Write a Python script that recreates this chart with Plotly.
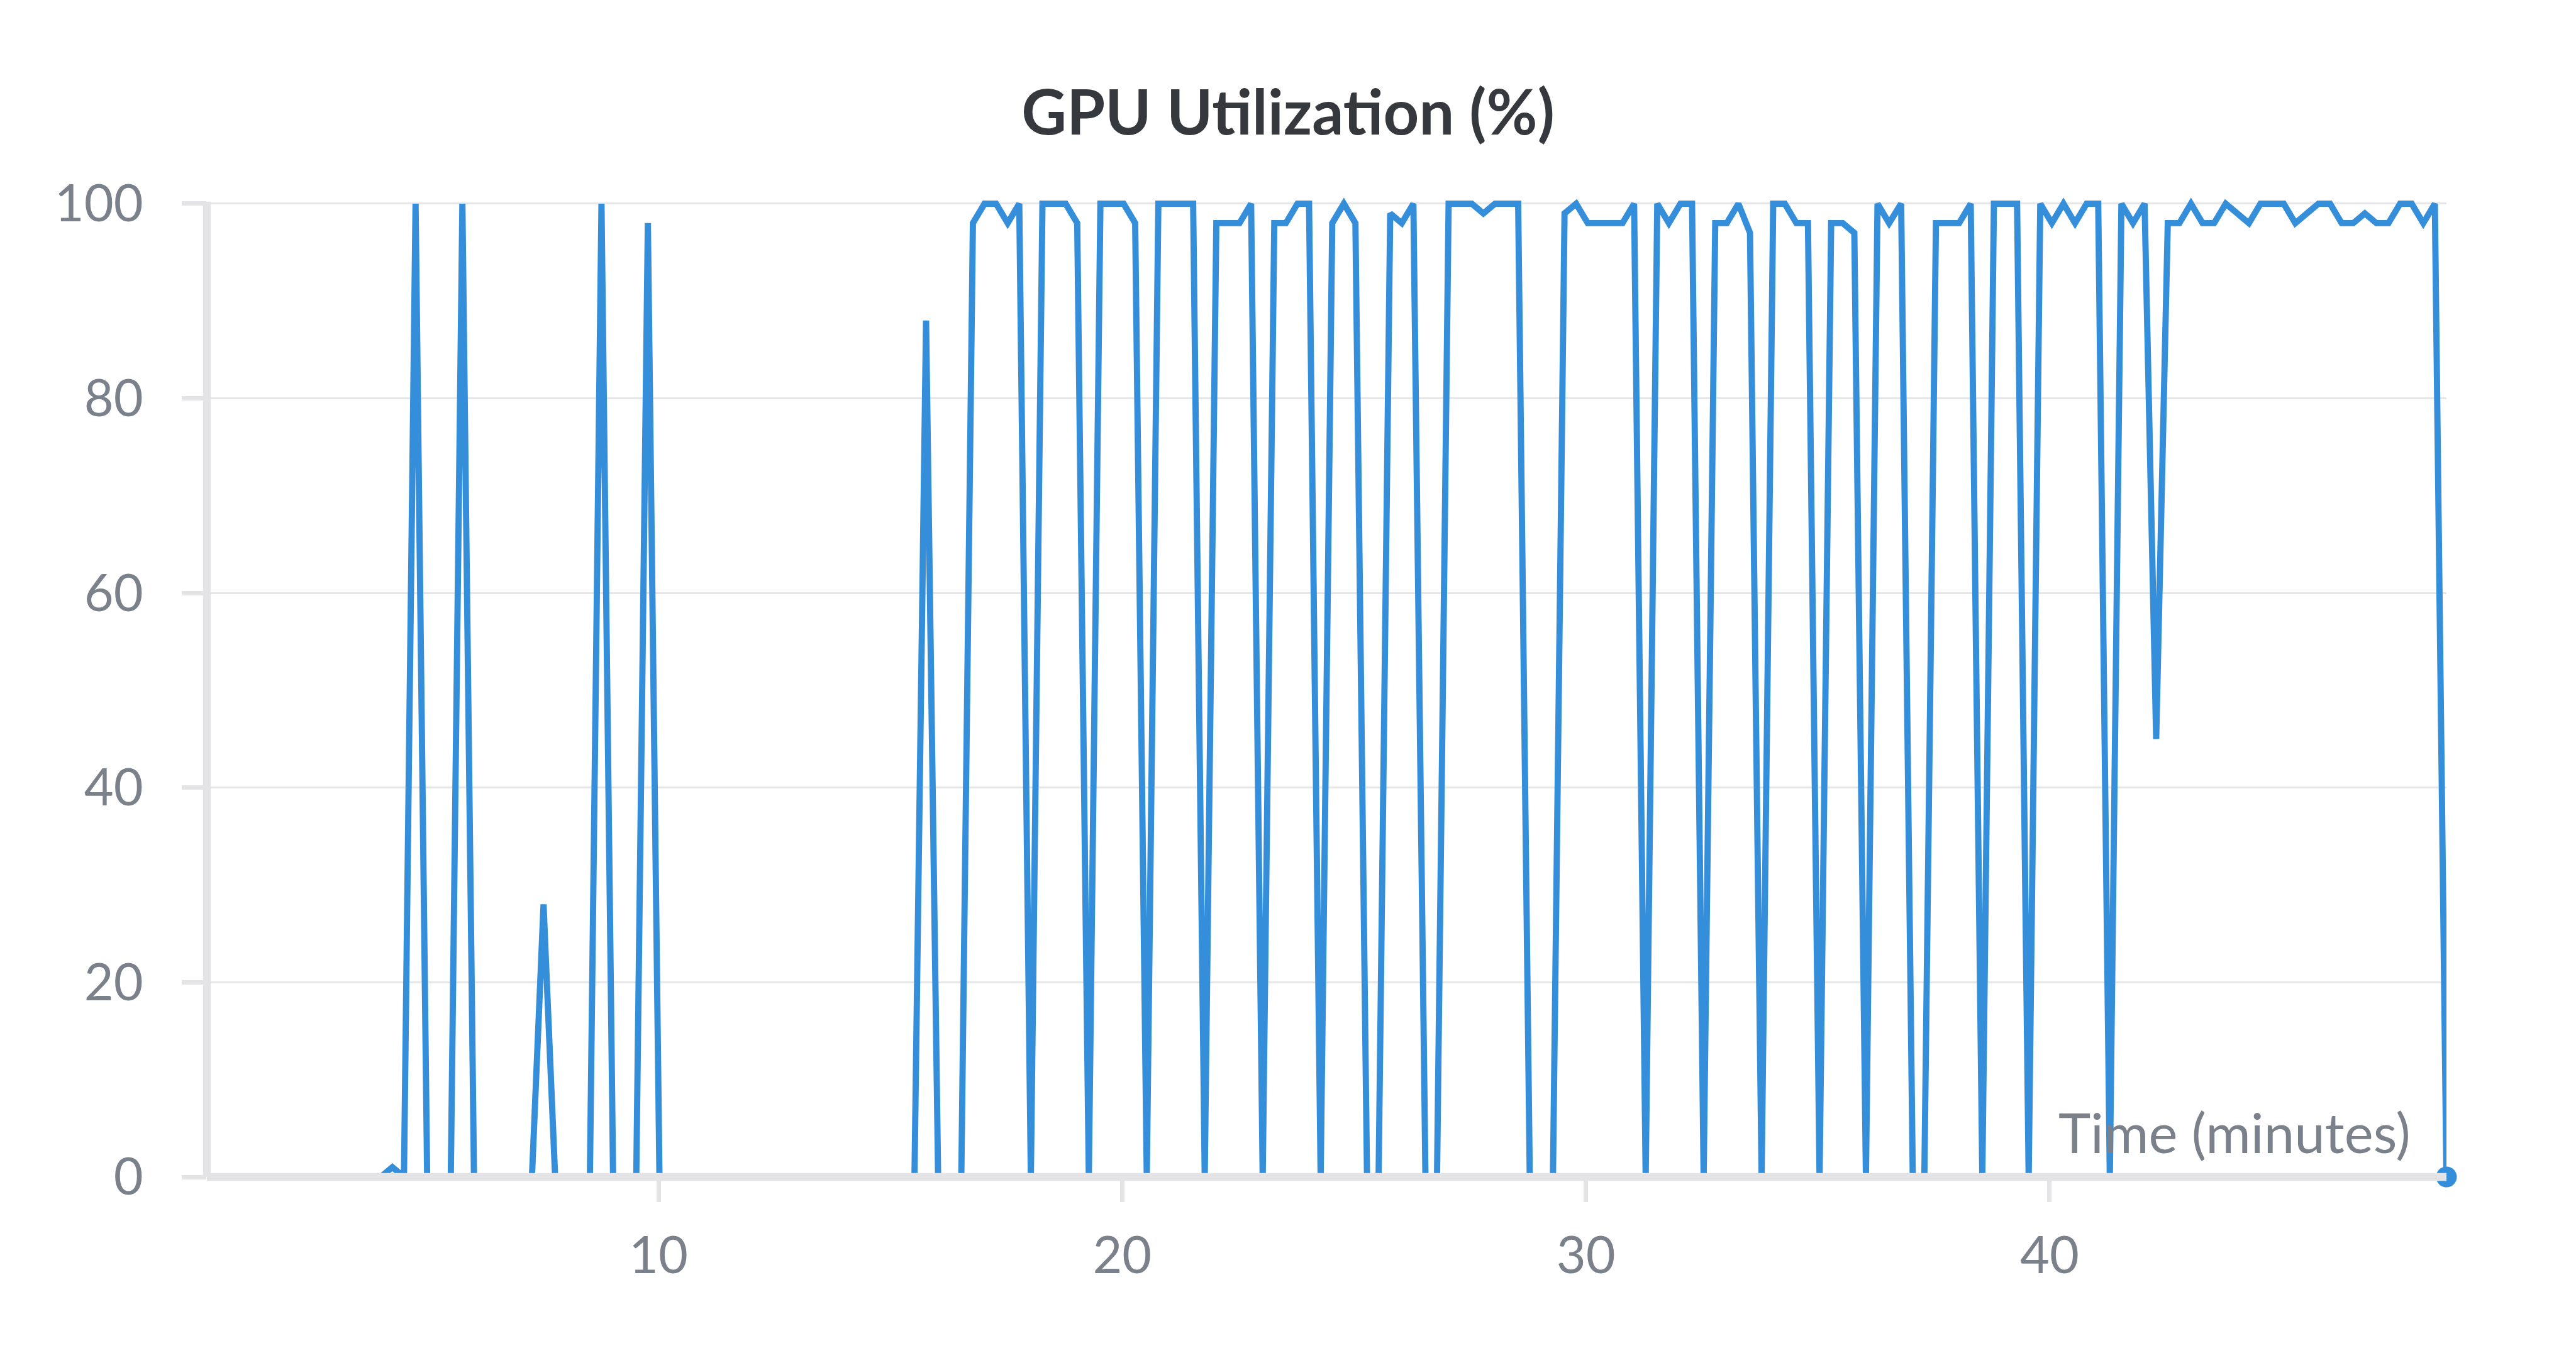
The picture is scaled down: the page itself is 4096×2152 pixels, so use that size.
import plotly.graph_objects as go

# ---------------- data ----------------
TIMES = [
    0.26, 0.51, 0.76, 1.01, 1.26, 1.51, 1.76, 2.01, 2.26, 2.51,
    2.76, 3.01, 3.26, 3.51, 3.76, 4.01, 4.26, 4.51, 4.76, 5.01,
    5.26, 5.52, 5.77, 6.02, 6.27, 6.52, 6.77, 7.02, 7.27, 7.52,
    7.77, 8.02, 8.27, 8.52, 8.77, 9.02, 9.27, 9.52, 9.77, 10.02,
    10.27, 10.52, 10.77, 11.02, 11.27, 11.52, 11.77, 12.02, 12.27, 12.52,
    12.77, 13.02, 13.27, 13.52, 13.77, 14.02, 14.27, 14.52, 14.77, 15.02,
    15.27, 15.52, 15.77, 16.03, 16.28, 16.53, 16.78, 17.03, 17.28, 17.53,
    17.78, 18.03, 18.28, 18.53, 18.78, 19.03, 19.28, 19.53, 19.78, 20.03,
    20.28, 20.53, 20.78, 21.03, 21.28, 21.53, 21.78, 22.03, 22.28, 22.53,
    22.78, 23.03, 23.28, 23.53, 23.78, 24.03, 24.28, 24.53, 24.78, 25.03,
    25.28, 25.53, 25.78, 26.03, 26.28, 26.54, 26.79, 27.04, 27.29, 27.54,
    27.79, 28.04, 28.29, 28.54, 28.79, 29.04, 29.29, 29.54, 29.79, 30.04,
    30.29, 30.54, 30.79, 31.04, 31.29, 31.54, 31.79, 32.04, 32.29, 32.54,
    32.79, 33.04, 33.29, 33.54, 33.79, 34.04, 34.29, 34.54, 34.79, 35.04,
    35.29, 35.54, 35.79, 36.04, 36.29, 36.54, 36.80, 37.05, 37.30, 37.55,
    37.80, 38.05, 38.30, 38.55, 38.80, 39.05, 39.30, 39.55, 39.80, 40.05,
    40.30, 40.55, 40.80, 41.05, 41.30, 41.55, 41.80, 42.05, 42.30, 42.55,
    42.80, 43.05, 43.30, 43.55, 43.80, 44.05, 44.30, 44.55, 44.80, 45.05,
    45.30, 45.55, 45.80, 46.05, 46.30, 46.55, 46.80, 47.05, 47.31, 47.56,
    47.81, 48.06, 48.31, 48.56,
]

GPU_UTIL = [
    0, 0, 0, 0, 0, 0, 0, 0, 0, 0,
    0, 0, 0, 0, 0, 0, 1, 0, 100, 0,
    0, 0, 100, 0, 0, 0, 0, 0, 0, 28,
    0, 0, 0, 0, 100, 0, 0, 0, 98, 0,
    0, 0, 0, 0, 0, 0, 0, 0, 0, 0,
    0, 0, 0, 0, 0, 0, 0, 0, 0, 0,
    0, 0, 88, 0, 0, 0, 98, 100, 100, 98,
    100, 0, 100, 100, 100, 98, 0, 100, 100, 100,
    98, 0, 100, 100, 100, 100, 0, 98, 98, 98,
    100, 0, 98, 98, 100, 100, 0, 98, 100, 98,
    0, 0, 99, 98, 100, 0, 0, 100, 100, 100,
    99, 100, 100, 100, 0, 0, 0, 99, 100, 98,
    98, 98, 98, 100, 0, 100, 98, 100, 100, 0,
    98, 98, 100, 97, 0, 100, 100, 98, 98, 0,
    98, 98, 97, 0, 100, 98, 100, 0, 0, 98,
    98, 98, 100, 0, 100, 100, 100, 0, 100, 98,
    100, 98, 100, 100, 0, 100, 98, 100, 45, 98,
    98, 100, 98, 98, 100, 99, 98, 100, 100, 100,
    98, 99, 100, 100, 98, 98, 99, 98, 98, 100,
    100, 98, 100, 0,
]

X_TICKS = [10, 20, 30, 40]
X_TICK_TEXT = ["10", "20", "30", "40"]
Y_TICKS = [0, 20, 40, 60, 80, 100]
Y_TICK_TEXT = ["0", "20", "40", "60", "80", "100"]

TITLE = "GPU Utilization (%)"
X_LABEL = "Time (minutes)"

# ---------------- style ----------------
W, H = 4096, 2152
L, R, T, B = 329.0, 3890.0, 293.0, 1872.5
Y_TOP = 102

LINE_BLUE = "#348eda"
AXIS_GREY = "#e4e4e7"
GRID_GREY = "#e6e6e9"
LABEL_GREY = "#7b818b"
TITLE_COLOR = "#35383c"
FONT = "Lato"

TICK_LEN = 39
TICK_W = 6.5
AXIS_W = 12.4

fig = go.Figure()

fig.add_trace(go.Scatter(
    x=TIMES, y=GPU_UTIL, mode="lines",
    line=dict(color=LINE_BLUE, width=9.9),
    hoverinfo="skip", showlegend=False,
))
fig.add_trace(go.Scatter(
    x=[TIMES[-1]], y=[GPU_UTIL[-1]], mode="markers",
    marker=dict(color=LINE_BLUE, size=33),
    cliponaxis=False, hoverinfo="skip", showlegend=False,
))

tickfont = dict(family=FONT, size=81, color=LABEL_GREY)

fig.update_layout(
    width=W, height=H,
    margin=dict(l=L, r=W - R, t=T, b=H - B, pad=0),
    paper_bgcolor="white", plot_bgcolor="white",
    title=dict(
        text=TITLE, x=0.5, xref="container", xanchor="center",
        y=1 - 179.5 / H, yref="container", yanchor="middle",
        font=dict(family=FONT, size=99, color=TITLE_COLOR, weight="bold"),
    ),
    xaxis=dict(
        range=[TIMES[0], TIMES[-1]],
        tickvals=X_TICKS, ticktext=X_TICK_TEXT,
        ticks="outside", ticklen=TICK_LEN, tickwidth=TICK_W, tickcolor=AXIS_GREY,
        showgrid=False, zeroline=False, showline=False,
        tickfont=tickfont, ticklabelstandoff=16,
    ),
    xaxis2=dict(
        overlaying="x", matches="x", anchor="y",
        tickvals=X_TICKS, ticks="inside", ticklen=TICK_LEN, tickwidth=TICK_W,
        tickcolor=AXIS_GREY, showticklabels=False, showgrid=False,
        zeroline=False, showline=False, layer="above traces",
    ),
    yaxis=dict(
        range=[0, Y_TOP],
        tickvals=Y_TICKS, ticktext=Y_TICK_TEXT,
        ticks="outside", ticklen=TICK_LEN, tickwidth=TICK_W, tickcolor=AXIS_GREY,
        showgrid=True, gridcolor=GRID_GREY, gridwidth=3.2,
        zeroline=False, showline=False,
        tickfont=tickfont, ticklabelstandoff=45,
    ),
    yaxis2=dict(
        overlaying="y", matches="y", anchor="x", side="left",
        tickvals=Y_TICKS, ticks="inside", ticklen=TICK_LEN, tickwidth=TICK_W,
        tickcolor=AXIS_GREY, showticklabels=False, showgrid=False,
        zeroline=False, showline=False, layer="above traces",
    ),
    shapes=[
        # x axis line at y = 0
        dict(type="line", xref="paper", yref="paper", x0=0, x1=1, y0=0, y1=0,
             line=dict(color=AXIS_GREY, width=AXIS_W), layer="above"),
        # y axis line from 0 up to the 100 tick
        dict(type="line", xref="paper", yref="paper", x0=0, x1=0, y0=0,
             y1=100.2 / Y_TOP,
             line=dict(color=AXIS_GREY, width=AXIS_W), layer="above"),
    ],
    annotations=[
        dict(text=X_LABEL, xref="paper", yref="paper",
             x=(3835 - L) / (R - L), y=0, xanchor="right", yanchor="bottom",
             yshift=17, showarrow=False,
             font=dict(family=FONT, size=87, color=LABEL_GREY)),
    ],
)

fig.write_html("out.html")
